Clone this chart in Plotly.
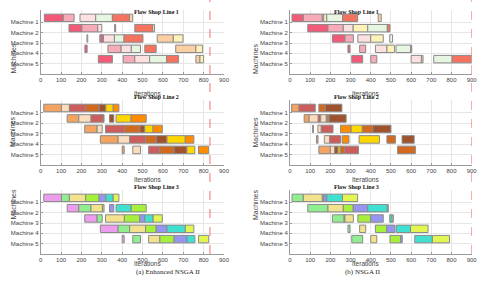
import plotly.graph_objects as go

# ---------------- data ----------------
MACHINES = ["Machine 1", "Machine 2", "Machine 3", "Machine 4", "Machine 5"]
MACHINE_POS = [1, 2, 3, 4, 5]
X_TICKS = [0, 100, 200, 300, 400, 500, 600, 700, 800, 900]
PANEL_TITLES = ["Flow Shop Line 1", "Flow Shop Line 2", "Flow Shop Line 3"]
CAPTIONS = ["(a) Enhanced NSGA II", "(b) NSGA II"]
MAKESPAN = [831, 900]          # red dashed reference per column

PAL_LINE1 = ["#F25A78", "#F7AAB8", "#FDE0E1", "#E7F6E0", "#F4725E", "#FBCFA2", "#FDF3B8"]
PAL_LINE2 = ["#F4A460", "#FBDCBD", "#CD5C5C", "#D2691E", "#A0522D", "#FFD700", "#FF8C00"]
PAL_LINE3 = ["#EE9CEE", "#90EE90", "#F2E28E", "#A6F03C", "#9696F0", "#40E0D0", "#E2F550"]

# (machine, start, end, job)
ENH_LINE1 = [
    (1, 18, 111, 0), (1, 111, 164, 1), (1, 193, 270, 2), (1, 270, 352, 3), (1, 352, 436, 4), (1, 436, 452, 5),
    (2, 139, 202, 0), (2, 202, 280, 1), (2, 280, 300, 2), (2, 363, 368, 0), (2, 462, 549, 4), (2, 549, 559, 5),
    (3, 227, 231, 3), (3, 290, 296, 1), (3, 296, 308, 0), (3, 308, 362, 2), (3, 362, 409, 3), (3, 409, 502, 4),
    (3, 572, 651, 5), (3, 651, 699, 6),
    (4, 217, 228, 0), (4, 330, 395, 1), (4, 395, 445, 2), (4, 445, 490, 3), (4, 511, 567, 4), (4, 663, 762, 5),
    (4, 762, 795, 6),
    (5, 283, 352, 0), (5, 405, 462, 1), (5, 462, 535, 2), (5, 535, 618, 3), (5, 618, 677, 4), (5, 762, 782, 5),
    (5, 782, 800, 6),
]
ENH_LINE2 = [
    (1, 15, 102, 0), (1, 102, 141, 1), (1, 141, 221, 2), (1, 221, 287, 3), (1, 287, 320, 4), (1, 320, 356, 5), (1, 356, 384, 6),
    (2, 130, 187, 0), (2, 187, 247, 1), (2, 247, 303, 2), (2, 303, 311, 3), (2, 338, 359, 4), (2, 370, 444, 5), (2, 444, 518, 6),
    (3, 216, 277, 0), (3, 277, 302, 1), (3, 318, 411, 2), (3, 411, 487, 3), (3, 487, 511, 4), (3, 511, 552, 5), (3, 552, 597, 6),
    (4, 293, 380, 0), (4, 380, 437, 1), (4, 437, 515, 2), (4, 515, 567, 3), (4, 567, 620, 4), (4, 620, 710, 5), (4, 710, 752, 6),
    (5, 400, 410, 0), (5, 452, 490, 1), (5, 530, 585, 2), (5, 585, 655, 3), (5, 655, 718, 4), (5, 718, 757, 5), (5, 775, 825, 6),
]
ENH_LINE3 = [
    (1, 15, 102, 0), (1, 102, 141, 1), (1, 141, 221, 2), (1, 221, 287, 3), (1, 287, 320, 4), (1, 320, 356, 5), (1, 356, 384, 6),
    (2, 130, 187, 0), (2, 187, 247, 1), (2, 247, 303, 2), (2, 303, 311, 3), (2, 338, 359, 4), (2, 370, 444, 5), (2, 444, 518, 3),
    (3, 216, 277, 0), (3, 277, 302, 1), (3, 318, 411, 2), (3, 411, 487, 3), (3, 487, 511, 4), (3, 511, 552, 5), (3, 552, 597, 6),
    (4, 293, 380, 0), (4, 380, 437, 1), (4, 437, 515, 2), (4, 515, 567, 3), (4, 567, 620, 4), (4, 620, 710, 5), (4, 710, 752, 6),
    (5, 400, 410, 0), (5, 452, 490, 1), (5, 530, 585, 2), (5, 585, 655, 3), (5, 655, 718, 4), (5, 718, 757, 5), (5, 775, 825, 6),
]
NSGA_LINE1 = [
    (1, 10, 66, 0), (1, 66, 160, 1), (1, 160, 167, 2), (1, 167, 182, 6), (1, 182, 260, 3), (1, 260, 335, 4), (1, 437, 452, 5),
    (2, 88, 188, 0), (2, 188, 264, 1), (2, 264, 313, 2), (2, 313, 385, 6), (2, 385, 482, 3), (2, 482, 495, 4),
    (3, 210, 270, 0), (3, 272, 314, 1), (3, 336, 400, 2), (3, 400, 462, 6), (3, 494, 508, 3),
    (4, 287, 297, 0), (4, 345, 375, 1), (4, 423, 480, 2), (4, 480, 518, 6), (4, 525, 598, 3), (4, 598, 603, 4),
    (5, 306, 360, 0), (5, 400, 430, 1), (5, 600, 651, 2), (5, 651, 659, 5), (5, 712, 803, 3), (5, 803, 900, 4),
]
NSGA_LINE2 = [
    (1, 8, 45, 0), (1, 45, 125, 2), (1, 143, 175, 3), (1, 175, 257, 4),
    (2, 70, 95, 0), (2, 95, 140, 1), (2, 140, 152, 2), (2, 152, 180, 1), (2, 180, 187, 3), (2, 187, 193, 5), (2, 193, 278, 4),
    (3, 112, 116, 1), (3, 138, 155, 1), (3, 155, 213, 2), (3, 250, 303, 6), (3, 303, 358, 5), (3, 358, 410, 3), (3, 410, 500, 4),
    (4, 131, 139, 0), (4, 170, 197, 1), (4, 197, 250, 2), (4, 258, 292, 6), (4, 342, 443, 5), (4, 480, 522, 3), (4, 555, 615, 4),
    (5, 143, 200, 0), (5, 200, 221, 1), (5, 221, 238, 4), (5, 238, 249, 5), (5, 249, 270, 3), (5, 270, 339, 2), (5, 533, 621, 3),
]
NSGA_LINE3 = [
    (1, 10, 66, 1), (1, 66, 160, 2), (1, 160, 167, 3), (1, 167, 182, 4), (1, 182, 260, 5), (1, 260, 335, 6),
    (2, 88, 188, 1), (2, 188, 264, 2), (2, 264, 313, 3), (2, 313, 385, 4), (2, 385, 482, 5), (2, 482, 487, 3),
    (3, 210, 268, 1), (3, 268, 272, 4), (3, 272, 314, 2), (3, 336, 400, 3), (3, 400, 462, 4), (3, 494, 506, 5), (3, 506, 512, 2),
    (4, 287, 297, 1), (4, 345, 375, 2), (4, 423, 480, 3), (4, 480, 520, 4), (4, 526, 597, 5), (4, 597, 684, 6),
    (5, 306, 360, 1), (5, 400, 430, 2), (5, 495, 549, 3), (5, 549, 556, 4), (5, 618, 705, 5), (5, 705, 790, 6),
]

PANELS = [  # (row, col, data, palette)
    (0, 0, ENH_LINE1, PAL_LINE1), (0, 1, NSGA_LINE1, PAL_LINE1),
    (1, 0, ENH_LINE2, PAL_LINE2), (1, 1, NSGA_LINE2, PAL_LINE2),
    (2, 0, ENH_LINE3, PAL_LINE3), (2, 1, NSGA_LINE3, PAL_LINE3),
]

# ---------------- layout geometry ----------------
W, H = 480, 284
COL_X = [(40.7, 224.0), (290.0, 471.7)]      # px
ROW_Y = [(10, 74), (100, 165), (190, 254)]    # px top, bottom
TITLE_Y = [6.5, 97, 187]
XLAB_Y = [88.5, 179, 268.5]
CAPTION_Y = 278
YLAB_X = [7, 255]

SANS = "Liberation Sans, Arial, sans-serif"
SERIF = "Liberation Serif, Times New Roman, serif"

fig = go.Figure()
layout = dict(
    width=W, height=H, margin=dict(l=0, r=0, t=0, b=0, autoexpand=False),
    paper_bgcolor="white", plot_bgcolor="white",
    barmode="overlay", showlegend=False,
)
annotations = []
shapes = []

def px_x(p):
    return p / W

def px_y(p):
    return 1 - p / H

for i, (row, col, data, pal) in enumerate(PANELS):
    n = i + 1
    xa = "x" if n == 1 else f"x{n}"
    ya = "y" if n == 1 else f"y{n}"
    fig.add_trace(go.Bar(
        orientation="h",
        y=[d[0] for d in data],
        base=[d[1] for d in data],
        x=[d[2] - d[1] for d in data],
        marker=dict(color=[pal[d[3]] for d in data],
                    line=dict(color="#8a8a8a", width=1)),
        width=0.72, offset=-0.8,
        xaxis=xa, yaxis=ya, hoverinfo="skip",
    ))
    x0, x1 = COL_X[col]
    yt, yb = ROW_Y[row]
    xkey = "xaxis" if n == 1 else f"xaxis{n}"
    ykey = "yaxis" if n == 1 else f"yaxis{n}"
    layout[xkey] = dict(
        domain=[px_x(x0), px_x(x1)], anchor=ya, range=[0, 900],
        tickvals=X_TICKS, ticktext=[str(t) for t in X_TICKS],
        showgrid=True, gridcolor="#e6e6e6", gridwidth=1,
        showline=True, linecolor="#9a9a9a", linewidth=1, zeroline=False,
        ticks="inside", ticklen=2, tickcolor="#9a9a9a",
        tickfont=dict(family=SANS, size=6, color="#444"),
    )
    layout[ykey] = dict(
        domain=[px_y(yb), px_y(yt)], anchor=xa, range=[6.0, -0.2],
        tickvals=MACHINE_POS, ticktext=MACHINES,
        showgrid=True, gridcolor="#e6e6e6", gridwidth=1,
        showline=True, linecolor="#9a9a9a", linewidth=1, zeroline=False,
        ticks="inside", ticklen=2, tickcolor="#9a9a9a",
        tickfont=dict(family=SANS, size=6, color="#444"),
    )
    cx = px_x((x0 + x1) / 2)
    annotations.append(dict(text="<b>" + PANEL_TITLES[row] + "</b>", x=cx, y=px_y(TITLE_Y[row]),
                            xref="paper", yref="paper", showarrow=False,
                            font=dict(family=SERIF, size=6, color="#111")))
    annotations.append(dict(text="Iterations", x=cx, y=px_y(XLAB_Y[row]),
                            xref="paper", yref="paper", showarrow=False,
                            font=dict(family=SANS, size=6.5, color="#444")))
    annotations.append(dict(text="Machines", x=px_x(YLAB_X[col]), y=px_y((yt + yb) / 2),
                            xref="paper", yref="paper", showarrow=False, textangle=-90,
                            font=dict(family=SANS, size=7, color="#444")))

for col in range(2):
    x0, x1 = COL_X[col]
    annotations.append(dict(text=CAPTIONS[col], x=px_x((x0 + x1) / 2 + 2), y=px_y(CAPTION_Y),
                            xref="paper", yref="paper", showarrow=False,
                            font=dict(family=SERIF, size=7, color="#222")))
    xa = "x" if col == 0 else "x2"
    shapes.append(dict(type="line", xref=xa, yref="paper",
                       x0=MAKESPAN[col], x1=MAKESPAN[col], y0=px_y(ROW_Y[2][1]), y1=1,
                       line=dict(color="#F07070", width=1, dash="dash")))

layout["annotations"] = annotations
layout["shapes"] = shapes
fig.update_layout(**layout)
fig.write_html("out.html", config={"displayModeBar": False},
               post_script="document.body.style.margin='0';document.body.style.overflow='hidden';")
